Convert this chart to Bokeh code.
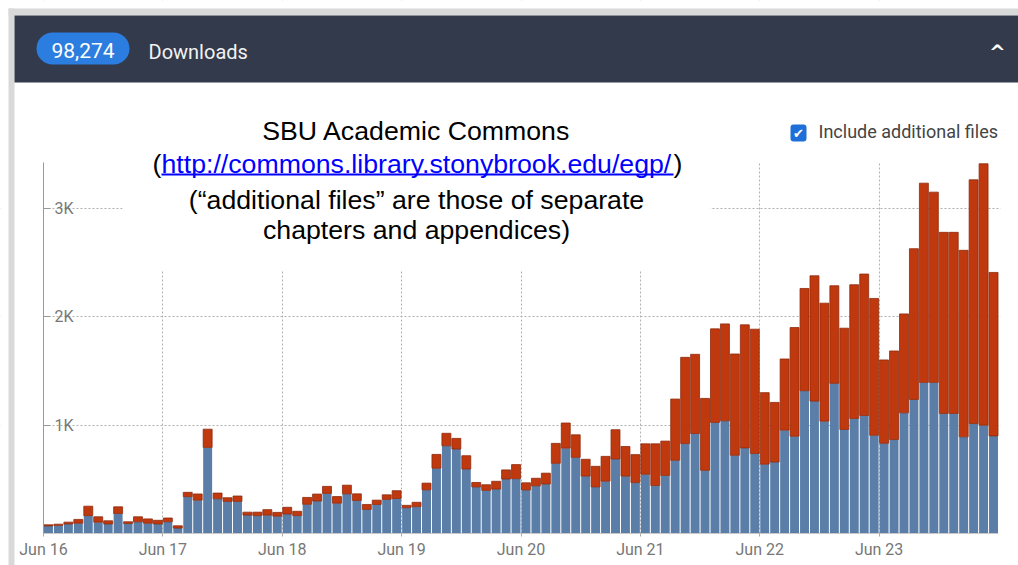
import pandas as pd
from bokeh.plotting import figure
from bokeh.models import ColumnDataSource, FixedTicker, Range1d, Label, BoxAnnotation
from bokeh.embed import file_html
from bokeh.resources import INLINE

# ---------------- data ----------------
first_month = "2016-06"
main_files = [70, 75, 88, 95, 165, 105, 88,
              185, 92, 108, 95, 88, 108, 50, 340, 308, 795, 320, 296,
              296, 170, 165, 170, 160, 180, 165, 270, 300, 370, 280, 366,
              305, 222, 268, 315, 323, 238, 248, 403, 603, 810, 780, 595,
              430, 398, 410, 503, 506, 402, 440, 457, 648, 788, 703, 530,
              430, 483, 688, 530, 470, 547, 443, 536, 676, 830, 923, 583,
              1025, 1040, 722, 790, 738, 640, 660, 954, 898, 1318, 1222, 1037,
              1386, 960, 1062, 1089, 907, 833, 867, 1114, 1237, 1395, 1395, 1108,
              1108, 892, 1015, 1000, 901]
additional_files = [10, 11, 17, 35, 87, 49, 29,
                    61, 16, 46, 40, 34, 35, 21, 40, 57, 168, 53, 34,
                    50, 27, 32, 50, 35, 62, 40, 63, 64, 65, 61, 80,
                    61, 46, 40, 42, 72, 22, 40, 62, 127, 115, 98, 123,
                    41, 52, 72, 84, 130, 66, 70, 100, 184, 232, 208, 155,
                    190, 229, 270, 273, 258, 281, 385, 317, 565, 796, 731, 664,
                    864, 895, 935, 1136, 1148, 660, 550, 657, 1003, 944, 1157, 1089,
                    901, 935, 1234, 1306, 1263, 769, 818, 913, 1392, 1839, 1756, 1672,
                    1672, 1722, 2250, 2413, 1509]
months = [str(m) for m in pd.period_range(first_month, periods=len(main_files), freq="M")]
x_tick_labels = ["Jun 16", "Jun 17", "Jun 18", "Jun 19", "Jun 20", "Jun 21", "Jun 22", "Jun 23"]
y_tick_values = [1000, 2000, 3000]
y_tick_labels = ["1K", "2K", "3K"]
y_axis_top = 3425
total_downloads = "98,274"

BLUE = "#5a7ea7"
RED = "#c0390e"

n = len(months)
src = ColumnDataSource(dict(
    x=[i + 0.5 for i in range(n)],
    month=months,
    main=main_files,
    top=[m + a for m, a in zip(main_files, additional_files)],
))
x_ticks = [i for i, m in enumerate(months) if m.endswith("-06")]

# ---------------- layout (frame = whole canvas, axes fixed inside) ----------------
W, H = 1018, 565
PX_LEFT, PX_RIGHT, PX_BASE = 43, 998, 533      # plot-area pixels in the picture
KX = (PX_RIGHT - PX_LEFT) / n                   # px per month
KY = 108.33 / 1000                              # px per download

p = figure(width=W, height=H, output_backend="svg", toolbar_location=None,
           x_range=Range1d(-PX_LEFT / KX, n + (W - PX_RIGHT) / KX),
           y_range=Range1d(-(H - PX_BASE) / KY, PX_BASE / KY),
           min_border=0, min_border_left=0, min_border_right=0,
           min_border_top=0, min_border_bottom=0)
p.outline_line_color = None
p.background_fill_color = "white"
p.border_fill_color = "white"

def dx(X):
    return (X - PX_LEFT) / KX
def dy(Y):
    return (PX_BASE - Y) / KY

def box(l, r, t, b, color, radius=0, level="annotation"):
    p.add_layout(BoxAnnotation(left=dx(l) if l is not None else None,
                               right=dx(r) if r is not None else None,
                               top=dy(t) if t is not None else None,
                               bottom=dy(b) if b is not None else None,
                               fill_color=color, fill_alpha=1, line_color=None,
                               border_radius=radius, level=level))

def label(X, Y, text, size, color="black", font="Liberation Sans", align="left",
          style="normal"):
    p.add_layout(Label(x=dx(X), y=dy(Y), text=text,
                       text_font=font, text_font_size=size, text_color=color,
                       text_align=align, text_baseline="middle", text_font_style=style))

# grid
for g in (p.xgrid, p.ygrid):
    g.grid_line_color = "#b0b0b0"
    g.grid_line_dash = "2 2"
    g.grid_line_width = 1

# white masks limiting the grid to the plot area
box(None, None, None, 162, "white", level="underlay")        # above plot area
box(None, PX_LEFT, None, None, "white", level="underlay")   # left
box(1000, None, None, None, "white", level="underlay")      # right
box(None, None, PX_BASE, None, "white", level="underlay")   # below
box(122, 710, 150, 270, "white", level="underlay")          # behind annotation text

p.vbar(x="x", width=0.9, bottom=0, top="main", source=src, fill_color=BLUE, line_color=None)
p.vbar(x="x", width=0.9, bottom="main", top="top", source=src, fill_color=RED,
       line_color="#8e2a0c", line_width=0.8)

# axes
p.xaxis.fixed_location = 0
p.xaxis.bounds = (0, n)
p.xaxis.ticker = FixedTicker(ticks=x_ticks)
p.xaxis.major_label_overrides = {t: lab for t, lab in zip(x_ticks, x_tick_labels)}
p.xaxis.axis_line_color = "#c8c8c8"
p.xaxis.major_tick_line_color = "#aaaaaa"
p.xaxis.major_tick_out = 3
p.xaxis.major_tick_in = 0
p.xaxis.minor_tick_line_color = None
p.xaxis.major_label_standoff = 3
p.xaxis.major_label_text_font = "Roboto"
p.xaxis.major_label_text_font_size = "16px"
p.xaxis.major_label_text_color = "#777777"

p.yaxis.fixed_location = 0
p.yaxis.bounds = (0, y_axis_top)
p.yaxis.ticker = FixedTicker(ticks=y_tick_values)
p.yaxis.major_label_overrides = {v: lab for v, lab in zip(y_tick_values, y_tick_labels)}
p.yaxis.axis_line_color = "#999999"
p.yaxis.major_tick_line_color = "#999999"
p.yaxis.major_tick_in = 7
p.yaxis.major_tick_out = 0
p.yaxis.minor_tick_line_color = None
p.yaxis.major_label_standoff = -30
p.yaxis.major_label_text_font = "Roboto"
p.yaxis.major_label_text_font_size = "16px"
p.yaxis.major_label_text_color = "#777777"

# page frame + header bar
box(8, 14, 8, 600, "#d9d9d9")
box(8, 1030, 8, 15, "#d9d9d9")
box(14, 1030, 15, 82, "#323a4b")
box(36, 129, 32, 64, "#2b7de0", radius=16)
label(82.5, 49.5, total_downloads, "21px", color="white", font="Roboto", align="center")
label(148, 51.5, "Downloads", "20px", color="#f2f2f2", font="Roboto")
label(997, 51, "^", "20px", color="white", font="DejaVu Sans", align="center", style="bold")

# checkbox legend
box(790, 806, 124, 141, "#1f6fd8", radius=3)
label(798, 133, "\u2714", "13px", color="white", font="DejaVu Sans", align="center")
label(818, 130.5, "Include additional files", "18px", color="#444444", font="Roboto")

# annotation text
FS = "26.7px"
label(416, 130.5, "SBU Academic Commons", FS, align="center")
label(161, 163, "(", FS, align="right")
label(161, 163, "http://commons.library.stonybrook.edu/egp/", FS, color="#0000ff")
label(673, 163, ")", FS)
box(161, 673, 173, 175, "#0000ff")
label(416, 199.5, "(\u201cadditional files\u201d are those of separate", FS, align="center")
label(416, 229.5, "chapters and appendices)", FS, align="center")

open("out.html", "w").write(file_html(p, INLINE))
